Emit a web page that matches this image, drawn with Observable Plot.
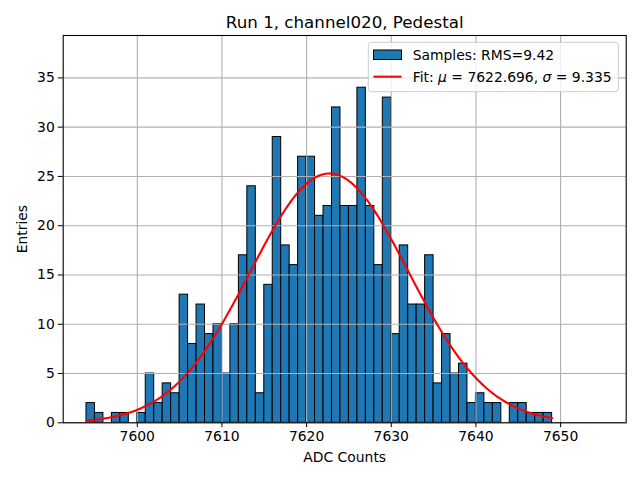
<!DOCTYPE html>
<html>
<head>
<meta charset="utf-8">
<script src="https://cdn.jsdelivr.net/npm/d3@7"></script>
<script src="https://cdn.jsdelivr.net/npm/@observablehq/plot@0.6"></script>
<style>
  html, body { margin: 0; padding: 0; background: white; }
</style>
</head>
<body>
<div id="chart"></div>
<script>
// ---- Data ----
const title = "Run 1, channel020, Pedestal";
const xLabel = "ADC Counts";
const yLabel = "Entries";
const binStarts = [7594,7595,7596,7597,7598,7599,7600,7601,7602,7603,7604,7605,7606,7607,7608,7609,7610,7611,7612,7613,7614,7615,7616,7617,7618,7619,7620,7621,7622,7623,7624,7625,7626,7627,7628,7629,7630,7631,7632,7633,7634,7635,7636,7637,7638,7639,7640,7641,7642,7643,7644,7645,7646,7647,7648];
const counts    = [2,1,0,1,1,0,1,5,2,4,3,13,8,12,9,10,5,10,17,24,3,14,29,18,16,27,27,21,22,32,22,22,34,22,16,33,9,18,12,12,17,4,9,5,6,2,3,2,2,0,2,2,1,1,1];
const binWidth = 1;
const xTicks = [7600, 7610, 7620, 7630, 7640, 7650];
const yTicks = [0, 5, 10, 15, 20, 25, 30, 35];
const fitMu = 7622.696;
const fitSigma = 9.335;
const fitAmplitude = 25.3;
const fitRange = [7594, 7649];
const legendSamples = "Samples: RMS=9.42";

// ---- Build tables ----
const bins = binStarts.map((b, i) => ({x1: b, x2: b + binWidth, count: counts[i]}));
const fitX = d3.range(fitRange[0], fitRange[1] + 0.001, 0.25);
const fitCurve = fitX.map(x => ({x, y: fitAmplitude * Math.exp(-0.5 * ((x - fitMu) / fitSigma) ** 2)}));

const FONT = "DejaVu Sans, sans-serif";
const ml = 62.7, mr = 14.3, mt = 35, mb = 57.7;

const chart = Plot.plot({
  width: 640,
  height: 480,
  marginLeft: ml,
  marginRight: mr,
  marginTop: mt,
  marginBottom: mb,
  style: {fontFamily: FONT, fontSize: "13.9px", background: "white", color: "black"},
  x: {type: "linear", domain: [7591.25, 7657.75]},
  y: {type: "linear", domain: [0, 39.3]},
  marks: [
    Plot.rect(bins, {filter: d => d.count > 0, x1: "x1", x2: "x2", y1: 0, y2: "count", fill: "#1f77b4", stroke: "black", strokeWidth: 1}),
    Plot.gridX(xTicks, {stroke: "#b0b0b0", strokeOpacity: 1, strokeWidth: 1.1}),
    Plot.gridY(yTicks, {stroke: "#b0b0b0", strokeOpacity: 1, strokeWidth: 1.1}),
    Plot.line(fitCurve, {x: "x", y: "y", stroke: "red", strokeWidth: 2.1}),
    Plot.frame({stroke: "black", strokeWidth: 1.1}),
    Plot.axisX(xTicks, {tickSize: 4.9, tickPadding: 3.5, label: null, fontSize: 13.9, tickFormat: d => String(d)}),
    Plot.axisY(yTicks, {tickSize: 4.9, tickPadding: 3.5, label: null, fontSize: 13.9, tickFormat: d => String(d)}),
    Plot.text([xLabel], {frameAnchor: "bottom", dy: 34.7, lineAnchor: "middle", fontSize: 13.9, fill: "black"}),
    Plot.text([yLabel], {frameAnchor: "left", dx: -41, rotate: -90, textAnchor: "middle", lineAnchor: "middle", fontSize: 13.9, fill: "black"}),
    Plot.text([title], {frameAnchor: "top", dy: -13.3, lineAnchor: "middle", fontSize: 16.7, fill: "black"})
  ]
});

document.getElementById("chart").appendChild(chart);

// ---- Legend ----
const svg = d3.select(chart);
const lg = svg.append("g").attr("font-family", FONT).attr("font-size", 13.9).attr("text-anchor", "start").attr("fill", "black");
lg.append("rect").attr("x", 368.3).attr("y", 42.3).attr("width", 250).attr("height", 49.4)
  .attr("rx", 3).attr("fill", "white").attr("fill-opacity", 0.8).attr("stroke", "#cccccc").attr("stroke-width", 1);
lg.append("rect").attr("x", 373.5).attr("y", 50).attr("width", 28).attr("height", 9.5)
  .attr("fill", "#1f77b4").attr("stroke", "black").attr("stroke-width", 1);
lg.append("text").attr("x", 412.7).attr("y", 55).attr("dy", "0.35em").attr("text-anchor", "start").text(legendSamples);
lg.append("line").attr("x1", 373.5).attr("x2", 401.5).attr("y1", 76.7).attr("y2", 76.7)
  .attr("stroke", "red").attr("stroke-width", 2.1);
const ft = lg.append("text").attr("x", 412.7).attr("y", 77.5).attr("dy", "0.35em").attr("text-anchor", "start");
ft.append("tspan").text("Fit: ");
ft.append("tspan").attr("font-style", "italic").text("\u03BC");
ft.append("tspan").text(" = " + fitMu.toFixed(3) + ", ");
ft.append("tspan").attr("font-style", "italic").text("\u03C3");
ft.append("tspan").text(" = " + fitSigma.toFixed(3));
</script>
</body>
</html>
